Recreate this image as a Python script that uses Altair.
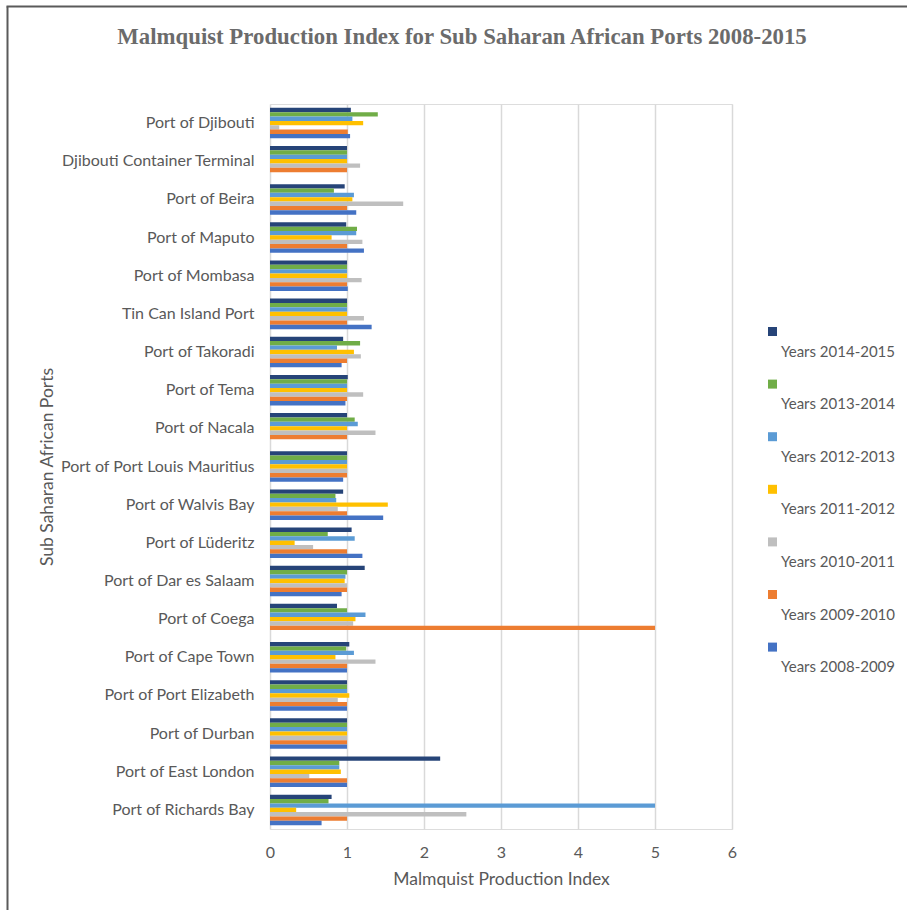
import altair as alt
import pandas as pd

ports = [
    "Port of Djibouti", "Djibouti Container Terminal", "Port of Beira", "Port of Maputo",
    "Port of Mombasa", "Tin Can Island Port", "Port of Takoradi", "Port of Tema",
    "Port of Nacala", "Port of Port Louis Mauritius", "Port of Walvis Bay", "Port of  Lüderitz",
    "Port of Dar es Salaam", "Port of Coega", "Port of Cape Town", "Port of Port Elizabeth",
    "Port of Durban", "Port of East London", "Port of Richards Bay",
]

series = [
    "Years 2014-2015", "Years 2013-2014", "Years 2012-2013", "Years 2011-2012",
    "Years 2010-2011", "Years 2009-2010", "Years 2008-2009",
]
colors = ["#264478", "#70AD47", "#5B9BD5", "#FFC000", "#BFBFBF", "#ED7D31", "#4472C4"]

y1415 = [1.05, 1.00, 0.97, 0.99, 1.00, 1.00, 0.95, 1.01, 1.00, 1.00, 0.95, 1.06, 1.23, 0.87, 1.03, 1.00, 1.00, 2.21, 0.80]
y1314 = [1.40, 1.00, 0.83, 1.13, 1.00, 1.00, 1.17, 1.00, 1.10, 1.00, 0.85, 0.75, 1.00, 1.00, 0.99, 1.00, 1.00, 0.90, 0.76]
y1213 = [1.07, 1.00, 1.09, 1.12, 1.00, 1.00, 0.87, 1.00, 1.14, 1.00, 0.86, 1.10, 0.98, 1.24, 1.09, 1.00, 1.00, 0.90, 5.00]
y1112 = [1.21, 1.00, 1.07, 0.80, 1.00, 1.00, 1.09, 1.00, 1.00, 1.00, 1.53, 0.32, 0.97, 1.11, 0.85, 1.03, 1.00, 0.92, 0.34]
y1011 = [0.12, 1.17, 1.73, 1.20, 1.19, 1.22, 1.18, 1.21, 1.37, 1.00, 0.88, 0.56, 1.00, 1.08, 1.37, 0.88, 1.00, 0.51, 2.55]
y0910 = [1.01, 1.00, 1.00, 1.00, 1.00, 1.00, 1.00, 1.00, 1.00, 1.00, 1.00, 1.00, 1.00, 5.00, 1.00, 1.00, 1.00, 1.00, 1.00]
y0809 = [1.04, None, 1.12, 1.22, 1.01, 1.32, 0.93, 0.98, None, 0.95, 1.47, 1.20, 0.93, None, 1.00, 1.00, 1.00, 1.00, 0.67]

x_ticks = [0, 1, 2, 3, 4, 5, 6]

rows = []
for s, vals in zip(series, [y1415, y1314, y1213, y1112, y1011, y0910, y0809]):
    for p, v in zip(ports, vals):
        if v is not None:
            rows.append({"port": p, "series": s, "value": v})
df = pd.DataFrame(rows)

TXT = "#595959"
FONT = "Lato"

bars = alt.Chart(df).mark_bar(stroke=None).encode(
    x=alt.X(
        "value:Q",
        scale=alt.Scale(domain=[0, 6], nice=False),
        axis=alt.Axis(
            values=x_ticks, title="Malmquist Production Index", grid=True,
            gridColor="#D9D9D9", gridWidth=1.5, domain=False, ticks=False,
            labelFlush=False,
            labelFont=FONT, labelFontSize=16, labelColor=TXT, labelPadding=15,
            titleFont=FONT, titleFontSize=17.5, titleFontWeight="normal", titleColor=TXT,
            titlePadding=10,
        ),
    ),
    y=alt.Y(
        "port:N", sort=ports,
        scale=alt.Scale(paddingInner=0.2, paddingOuter=0.1),
        axis=alt.Axis(
            title="Sub Saharan African Ports", ticks=False, domain=False,
            labelFont=FONT, labelFontSize=16, labelColor=TXT, labelPadding=16,
            labelLimit=400,
            titleFont=FONT, titleFontSize=17.5, titleFontWeight="normal", titleColor=TXT,
            titlePadding=14,
        ),
    ),
    yOffset=alt.YOffset("series:N", sort=series, scale=alt.Scale(paddingInner=0, paddingOuter=0)),
    color=alt.Color(
        "series:N",
        scale=alt.Scale(domain=series, range=colors),
        legend=alt.Legend(
            title=None, orient="none", legendX=495, legendY=216,
            symbolType="M-1,-0.11H1V1.89H-1Z", symbolSize=81, symbolStrokeWidth=0,
            labelFont=FONT, labelFontSize=15, labelColor=TXT,
            labelBaseline="top", labelOffset=1,
            labelExpr="['', datum.label]",
            rowPadding=12.6, padding=0, labelLimit=300,
        ),
    ),
)

frame_left = alt.Chart(pd.DataFrame({"k": [0]})).mark_rule(color="#5A5A5A", strokeWidth=2).encode(
    x=alt.value(-262.5), y=alt.value(-97.5), y2=alt.value(830)
)
frame_top = alt.Chart(pd.DataFrame({"k": [0]})).mark_rule(color="#5A5A5A", strokeWidth=2).encode(
    x=alt.value(-263.5), x2=alt.value(640), y=alt.value(-97.5)
)

chart = alt.layer(bars, frame_left, frame_top).properties(
    width=462,
    height=725,
    padding={"left": 270, "top": 104, "right": 175, "bottom": 81},
    autosize=alt.AutoSizeParams(type="none"),
    title=alt.TitleParams(
        "Malmquist Production Index for Sub Saharan African Ports 2008-2015",
        font="Liberation Serif", fontSize=22.8, fontWeight="bold", color="#6B6B6B",
        anchor="middle", dx=-39, offset=0, dy=43,
    ),
).configure_view(stroke=None).configure(background="white")

chart.save("out.html", embed_options={"renderer": "svg", "actions": False})
